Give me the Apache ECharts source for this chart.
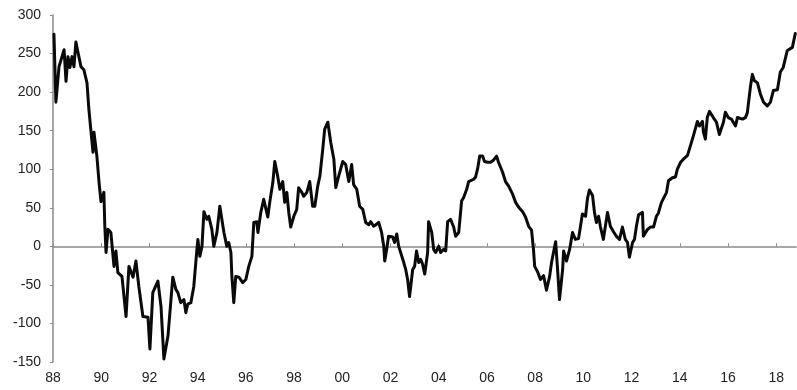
<!DOCTYPE html>
<html>
<head>
<meta charset="utf-8">
<script src="https://cdn.jsdelivr.net/npm/echarts@6/dist/echarts.min.js"></script>
<style>
html,body{margin:0;padding:0;background:#fff;}
#chart{width:797px;height:390px;}
</style>
</head>
<body>
<div id="chart"></div>
<script>
// Decimal years (1988 = '88')
var years = [
1988.04,1988.12,1988.25,1988.46,1988.54,1988.62,1988.70,1988.79,1988.87,1988.95,
1989.04,1989.16,1989.28,1989.41,1989.49,1989.57,1989.66,1989.70,1989.82,1989.91,
1989.99,1990.11,1990.15,1990.20,1990.28,1990.40,1990.53,1990.61,1990.69,1990.86,
1991.03,1991.15,1991.32,1991.44,1991.56,1991.73,1991.94,1992.02,1992.14,1992.35,
1992.48,1992.60,1992.77,1992.97,1993.10,1993.18,1993.30,1993.43,1993.51,1993.59,
1993.72,1993.84,1993.97,1994.01,1994.09,1994.18,1994.26,1994.38,1994.46,1994.59,
1994.67,1994.80,1994.92,1995.09,1995.21,1995.29,1995.38,1995.42,1995.50,1995.58,
1995.71,1995.87,1996.00,1996.12,1996.25,1996.33,1996.45,1996.50,1996.62,1996.74,
1996.91,1996.99,1997.12,1997.20,1997.32,1997.41,1997.53,1997.61,1997.70,1997.78,
1997.86,1997.99,1998.11,1998.19,1998.32,1998.40,1998.53,1998.65,1998.77,1998.86,
1998.98,1999.07,1999.19,1999.27,1999.40,1999.52,1999.65,1999.73,1999.85,2000.02,
2000.14,2000.27,2000.39,2000.47,2000.60,2000.72,2000.85,2000.97,2001.10,2001.18,
2001.30,2001.39,2001.51,2001.63,2001.72,2001.76,2001.84,2001.92,2002.09,2002.17,
2002.26,2002.34,2002.42,2002.55,2002.63,2002.71,2002.79,2002.92,2003.00,2003.08,
2003.17,2003.25,2003.33,2003.42,2003.54,2003.58,2003.71,2003.79,2003.87,2004.00,
2004.08,2004.20,2004.29,2004.37,2004.49,2004.62,2004.70,2004.83,2004.95,2005.03,
2005.16,2005.24,2005.32,2005.45,2005.53,2005.61,2005.70,2005.82,2005.90,2006.03,
2006.15,2006.28,2006.40,2006.48,2006.65,2006.77,2006.90,2007.06,2007.19,2007.31,
2007.48,2007.60,2007.73,2007.85,2007.93,2007.98,2008.10,2008.22,2008.35,2008.47,
2008.60,2008.68,2008.76,2008.85,2008.93,2009.01,2009.14,2009.18,2009.30,2009.43,
2009.55,2009.67,2009.80,2009.96,2010.09,2010.17,2010.25,2010.38,2010.46,2010.54,
2010.63,2010.71,2010.83,2011.00,2011.12,2011.25,2011.37,2011.50,2011.62,2011.74,
2011.83,2011.91,2012.04,2012.12,2012.20,2012.29,2012.37,2012.45,2012.49,2012.66,
2012.78,2012.91,2013.03,2013.11,2013.24,2013.32,2013.45,2013.53,2013.69,2013.82,
2013.90,2014.03,2014.15,2014.32,2014.40,2014.56,2014.73,2014.81,2014.94,2014.98,
2015.06,2015.14,2015.23,2015.39,2015.52,2015.64,2015.81,2015.89,2016.01,2016.14,
2016.31,2016.39,2016.60,2016.72,2016.80,2016.93,2017.01,2017.09,2017.22,2017.34,
2017.47,2017.63,2017.76,2017.88,2018.05,2018.17,2018.29,2018.46,2018.67,2018.79
];
var values = [
275,187,233,255,214,246,232,246,233,265,
251,233,229,212,177,151,122,148,117,83,
58,70,26,-8,22,18,-26,-6,-34,-39,
-91,-26,-40,-19,-52,-91,-92,-133,-60,-45,
-78,-146,-116,-40,-56,-60,-73,-69,-86,-75,
-73,-52,-4,9,-13,0,45,35,39,22,
0,18,52,18,0,5,-8,-39,-73,-39,
-40,-47,-43,-26,-13,31,32,18,44,61,
38,57,83,110,91,74,84,57,70,44,
25,39,48,76,70,65,70,84,52,52,
78,91,126,152,161,135,113,76,91,110,
106,84,106,80,74,52,48,31,28,32,
26,28,31,18,0,-19,-4,13,12,5,
16,0,-8,-21,-30,-43,-65,-30,-26,-6,
-21,-17,-23,-36,-8,32,18,-4,-8,0,
-8,-4,-6,32,35,25,13,18,59,63,
74,84,83,87,90,100,117,117,110,109,
109,112,117,109,96,84,78,68,57,51,
45,38,26,21,-4,-26,-33,-43,-38,-57,
-39,-21,-8,6,-30,-69,-30,-6,-19,-4,
18,9,10,42,39,62,73,66,44,31,
39,25,9,44,26,19,13,9,25,9,
5,-14,5,9,26,41,39,44,13,22,
25,25,39,43,57,57,70,85,89,90,
100,109,113,118,117,143,162,156,162,148,
139,167,175,167,161,145,161,174,167,165,
156,167,165,167,173,207,223,215,212,198,
187,182,187,202,203,226,232,254,258,276
];
var tickYears = [1988,1990,1992,1994,1996,1998,2000,2002,2004,2006,2008,2010,2012,2014,2016,2018];
var yMin = -150, yMax = 300, yStep = 50;
var xMin = 1988, xMax = 2018.82;

var seriesData = years.map(function (y, i) { return [y, values[i]]; });
function yy(v) { var n = Math.round(v) % 100; return (n < 10 ? '0' : '') + n; }

var chart = echarts.init(document.getElementById('chart'), null, {renderer: 'canvas'});
chart.setOption({
  animation: false,
  backgroundColor: '#ffffff',
  grid: {left: 53, right: 1, top: 15, bottom: 28, containLabel: false, outerBoundsMode: 'none'},
  xAxis: [
    {
      type: 'value', min: xMin, max: xMax, position: 'bottom',
      axisLine: {show: false, onZero: false},
      axisTick: {show: false},
      splitLine: {show: false},
      axisLabel: {
        customValues: tickYears, formatter: yy,
        fontFamily: 'Liberation Sans, Arial, sans-serif', fontSize: 14, color: '#222', margin: 9
      }
    },
    {
      type: 'value', min: xMin, max: xMax,
      axisLine: {show: true, onZero: true, lineStyle: {color: '#8a8a8a', width: 1.5}},
      axisTick: {show: true, customValues: tickYears, length: 3, lineStyle: {color: '#8a8a8a', width: 1}},
      axisLabel: {show: false},
      splitLine: {show: false}
    }
  ],
  yAxis: {
    type: 'value', min: yMin, max: yMax, interval: yStep,
    axisLine: {show: true, onZero: false, lineStyle: {color: '#8a8a8a', width: 1.5}},
    axisTick: {show: true, length: 3, lineStyle: {color: '#8a8a8a'}},
    splitLine: {show: false},
    axisLabel: {fontFamily: 'Liberation Sans, Arial, sans-serif', fontSize: 14, color: '#222', margin: 12}
  },
  series: [{
    type: 'line', xAxisIndex: 1, data: seriesData,
    showSymbol: false, symbol: 'none',
    lineStyle: {color: '#0a0a0a', width: 3, join: 'round', cap: 'round'}
  }]
});
</script>
</body>
</html>
